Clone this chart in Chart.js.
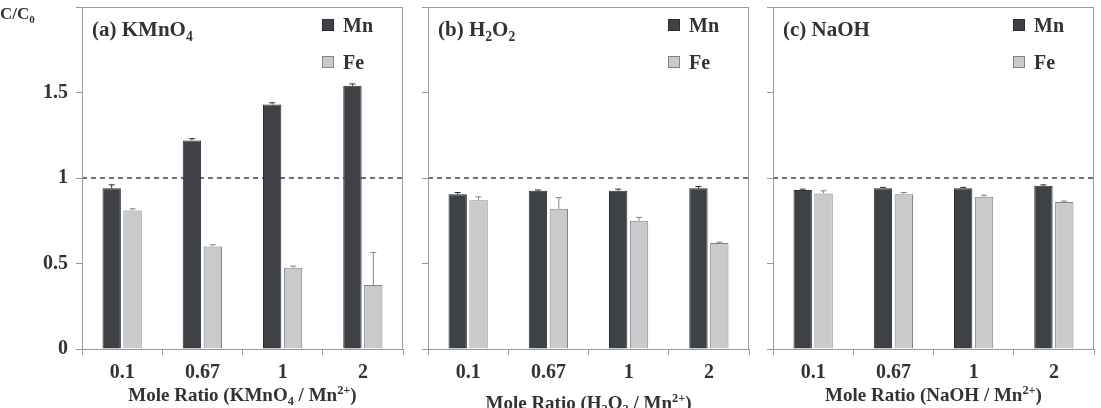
<!DOCTYPE html>
<html>
<head>
<meta charset="utf-8">
<script src="https://cdn.jsdelivr.net/npm/chart.js@4.4.1/dist/chart.umd.min.js"></script>
<style>
  html, body { margin: 0; padding: 0; background: #fff; }
  #wrap { position: relative; width: 1101px; height: 408px; overflow: hidden; }
  #wrap canvas { position: absolute; top: 0; }
</style>
</head>
<body>
<div id="wrap">
  <canvas id="chartA" width="410" height="408" style="left:0"></canvas>
  <canvas id="chartB" width="345" height="408" style="left:410px"></canvas>
  <canvas id="chartC" width="346" height="408" style="left:755px"></canvas>
</div>
<script>
// mole ratios on the x axis
const ratios = ['0.1', '0.67', '1', '2'];
const yTicks = [0, 0.5, 1, 1.5];
const refLine = 1;

// (a) KMnO4
const mnKMnO4 = [0.94, 1.22, 1.43, 1.54];
const mnKMnO4Err = [0.02, 0.01, 0.01, 0.01];
const feKMnO4 = [0.81, 0.60, 0.475, 0.375];
const feKMnO4Err = [0.01, 0.01, 0.01, 0.19];

// (b) H2O2
const mnH2O2 = [0.905, 0.925, 0.925, 0.94];
const mnH2O2Err = [0.01, 0.005, 0.01, 0.01];
const feH2O2 = [0.87, 0.82, 0.75, 0.62];
const feH2O2Err = [0.02, 0.065, 0.02, 0.005];

// (c) NaOH
const mnNaOH = [0.93, 0.94, 0.94, 0.955];
const mnNaOHErr = [0.005, 0.005, 0.005, 0.005];
const feNaOH = [0.91, 0.905, 0.89, 0.86];
const feNaOHErr = [0.015, 0.01, 0.01, 0.005];

const FONT = "'Liberation Serif', 'Times New Roman', serif";
const TEXT = '#333';
const AXIS = '#9a9a9a';
const MN_FILL = '#3e4146', MN_LINE = '#2b2d31';
const FE_FILL = '#c9cacb', FE_LINE = '#808285';

// draw text with sub/superscript parts: [[text, 'sub'|'sup'|''], ...]
function drawRich(ctx, parts, x, y, size, align) {
    ctx.save();
    ctx.textBaseline = 'alphabetic';
    ctx.textAlign = 'left';
    ctx.fillStyle = TEXT;
    const widths = parts.map(p => {
        ctx.font = 'bold ' + (p[1] ? size * 0.65 : size) + 'px ' + FONT;
        return ctx.measureText(p[0]).width;
    });
    const total = widths.reduce((a, b) => a + b, 0);
    let cx = align === 'center' ? x - total / 2 : x;
    parts.forEach((p, i) => {
        ctx.font = 'bold ' + (p[1] ? size * 0.65 : size) + 'px ' + FONT;
        let dy = 0;
        if (p[1] === 'sub') dy = size * 0.22;
        if (p[1] === 'sup') dy = -size * 0.38;
        ctx.fillText(p[0], cx, y + dy);
        cx += widths[i];
    });
    ctx.restore();
}

const panelDecor = {
    id: 'panelDecor',
    beforeDatasetsDraw(chart) {
        const { ctx, chartArea, scales } = chart;
        const y = scales.y.getPixelForValue(refLine);
        ctx.save();
        ctx.strokeStyle = '#444';
        ctx.lineWidth = 1.3;
        ctx.setLineDash([5, 4]);
        ctx.beginPath();
        ctx.moveTo(chartArea.left, y);
        ctx.lineTo(chartArea.right, y);
        ctx.stroke();
        ctx.restore();
    },
    afterDatasetsDraw(chart) {
        const { ctx, scales } = chart;
        ctx.save();
        ctx.lineWidth = 1;
        chart.data.datasets.forEach((ds, i) => {
            const meta = chart.getDatasetMeta(i);
            ctx.strokeStyle = ds.borderColor;
            meta.data.forEach((bar, j) => {
                const top = scales.y.getPixelForValue(ds.data[j] + ds.errors[j]);
                ctx.beginPath();
                ctx.moveTo(bar.x, bar.y);
                ctx.lineTo(bar.x, top);
                ctx.moveTo(bar.x - 3, top);
                ctx.lineTo(bar.x + 3, top);
                ctx.stroke();
            });
        });
        ctx.restore();
    },
    afterDraw(chart, args, opts) {
        const { ctx, chartArea } = chart;
        ctx.save();
        ctx.strokeStyle = AXIS;
        ctx.lineWidth = 1;
        ctx.strokeRect(chartArea.left + 0.5, chartArea.top + 0.5,
            chartArea.right - chartArea.left - 1, chartArea.bottom - chartArea.top);
        ctx.restore();

        // panel title
        drawRich(ctx, opts.title, chartArea.left + 10, chartArea.top + 29, 21, 'left');

        // legend in the top right corner
        const lx = chartArea.right - 81;
        chart.data.datasets.forEach((ds, i) => {
            const by = chartArea.top + 12 + i * 37;
            ctx.save();
            ctx.fillStyle = ds.backgroundColor;
            ctx.strokeStyle = ds.borderColor;
            ctx.fillRect(lx, by, 12, 12);
            ctx.strokeRect(lx + 0.5, by + 0.5, 11, 11);
            ctx.restore();
            drawRich(ctx, [[ds.label, '']], lx + 21, by + 13, 20, 'left');
        });

        // x axis title
        const cx = (chartArea.left + chartArea.right) / 2;
        drawRich(ctx, opts.xTitle, cx, opts.xTitleY, 19, 'center');

        // y axis title
        if (opts.yTitle) {
            drawRich(ctx, [['C/C', ''], ['0', 'sub']], 0, 19, 17, 'left');
        }
    }
};

function makePanel(id, mn, mnErr, fe, feErr, cfg) {
    return new Chart(document.getElementById(id), {
        type: 'bar',
        data: {
            labels: ratios,
            datasets: [
                { label: 'Mn', data: mn, errors: mnErr, backgroundColor: MN_FILL, borderColor: MN_LINE,
                  borderWidth: 1, categoryPercentage: 0.52, barPercentage: 0.88 },
                { label: 'Fe', data: fe, errors: feErr, backgroundColor: FE_FILL, borderColor: FE_LINE,
                  borderWidth: 1, categoryPercentage: 0.52, barPercentage: 0.88 }
            ]
        },
        options: {
            responsive: false,
            animation: false,
            layout: { padding: { top: 7, right: cfg.padRight, left: 0, bottom: 0 } },
            plugins: {
                legend: { display: false },
                tooltip: { enabled: false },
                panelDecor: { title: cfg.title, xTitle: cfg.xTitle, xTitleY: cfg.xTitleY, yTitle: cfg.yTitle }
            },
            scales: {
                x: {
                    offset: true,
                    grid: { offset: true, drawOnChartArea: false, tickLength: 6, color: AXIS },
                    border: { color: AXIS },
                    ticks: { color: TEXT, padding: 6, font: { family: FONT, size: 20, weight: 'bold' } },
                    afterFit: s => { s.height = 59; s.paddingLeft = 0; s.paddingRight = 0; }
                },
                y: {
                    min: 0,
                    max: 2,
                    afterBuildTicks: s => { s.ticks = yTicks.concat([2]).map(v => ({ value: v })); },
                    grid: { drawOnChartArea: false, tickLength: 6, color: AXIS },
                    border: { color: AXIS },
                    ticks: {
                        color: TEXT, padding: 8,
                        font: { family: FONT, size: 20, weight: 'bold' },
                        callback: v => (cfg.yLabels && yTicks.includes(v)) ? String(v) : ''
                    },
                    afterFit: s => { s.width = cfg.yWidth; s.paddingTop = 0; s.paddingBottom = 0; }
                }
            }
        },
        plugins: [panelDecor]
    });
}

makePanel('chartA', mnKMnO4, mnKMnO4Err, feKMnO4, feKMnO4Err, {
    padRight: 7, yWidth: 82, yLabels: true, yTitle: true, xTitleY: 401,
    title: [['(a) KMnO', ''], ['4', 'sub']],
    xTitle: [['Mole Ratio (KMnO', ''], ['4', 'sub'], [' / Mn', ''], ['2+', 'sup'], [')', '']]
});
makePanel('chartB', mnH2O2, mnH2O2Err, feH2O2, feH2O2Err, {
    padRight: 6, yWidth: 18, yLabels: false, yTitle: false, xTitleY: 409,
    title: [['(b) H', ''], ['2', 'sub'], ['O', ''], ['2', 'sub']],
    xTitle: [['Mole Ratio (H', ''], ['2', 'sub'], ['O', ''], ['2', 'sub'], [' / Mn', ''], ['2+', 'sup'], [')', '']]
});
makePanel('chartC', mnNaOH, mnNaOHErr, feNaOH, feNaOHErr, {
    padRight: 7, yWidth: 18, yLabels: false, yTitle: false, xTitleY: 401,
    title: [['(c) NaOH', '']],
    xTitle: [['Mole Ratio (NaOH / Mn', ''], ['2+', 'sup'], [')', '']]
});
</script>
</body>
</html>
